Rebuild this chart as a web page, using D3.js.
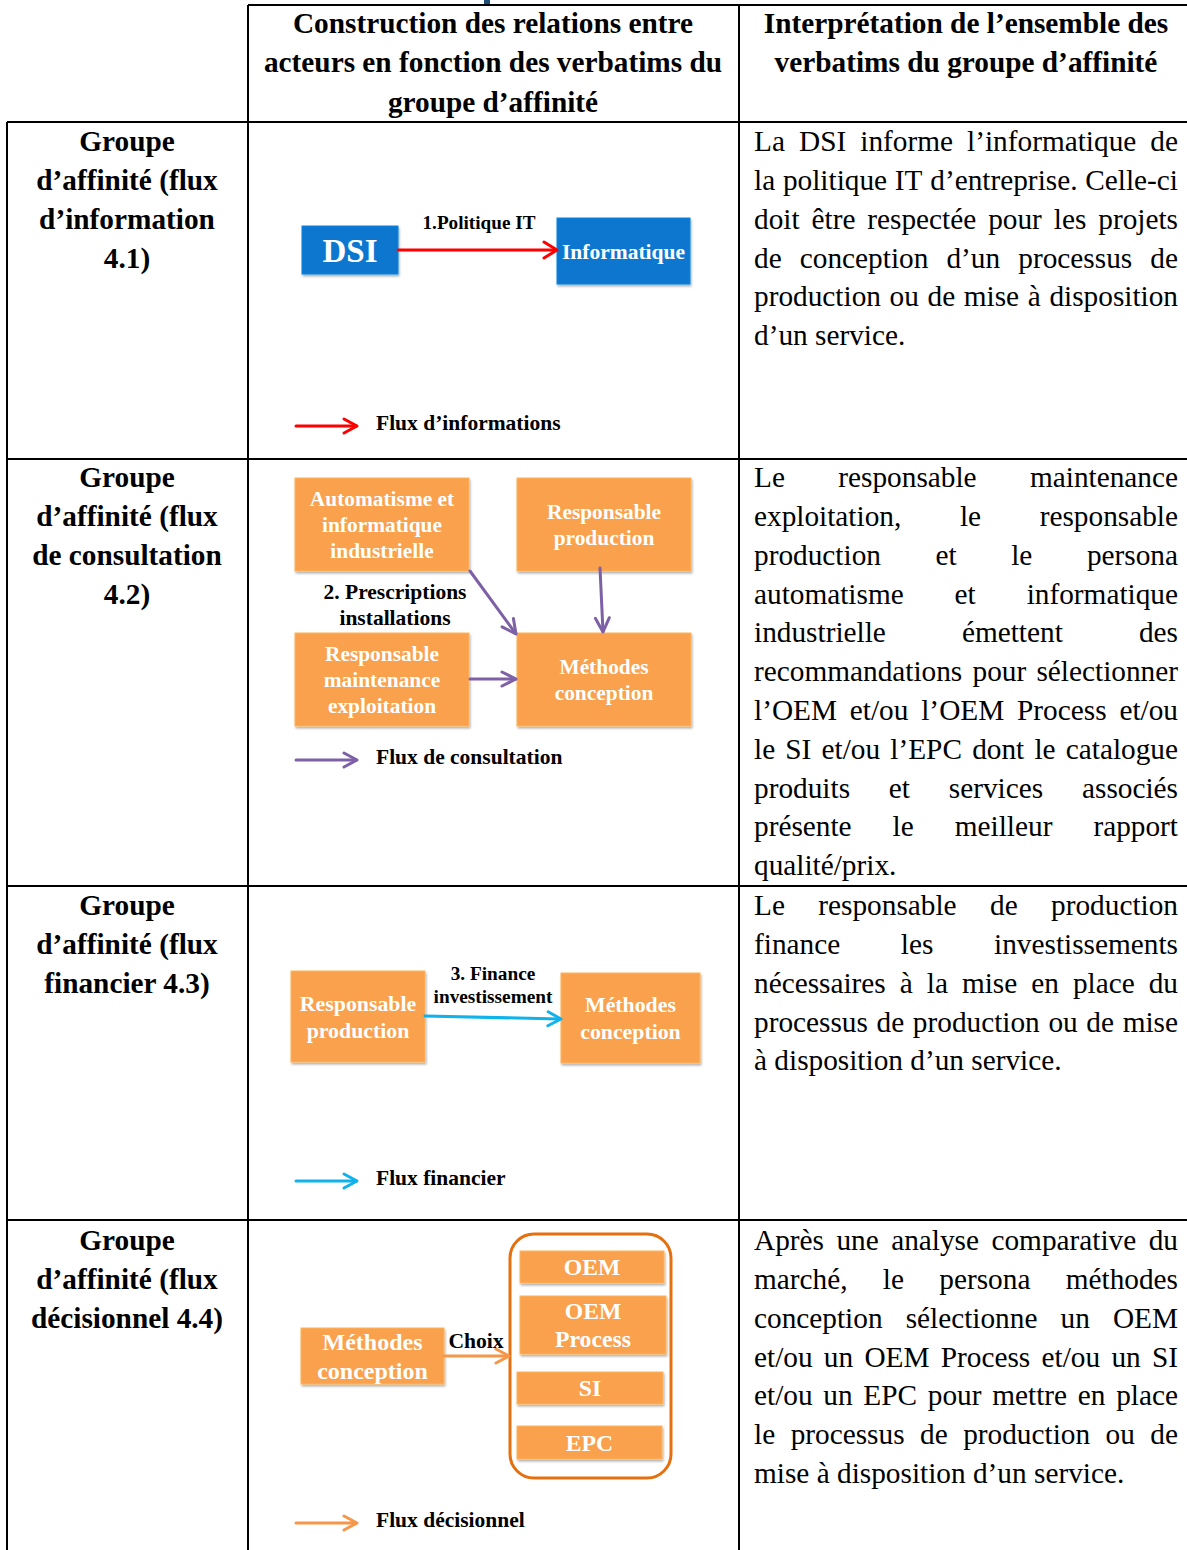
<!DOCTYPE html>
<html><head><meta charset="utf-8">
<script src="https://cdn.jsdelivr.net/npm/d3@7"></script>
<style>body{margin:0;background:#fff}svg{display:block}</style>
</head><body><svg id="c"></svg>
<script>
// ---------- DATA (text content) ----------
const headerCol2 = ["Construction des relations entre", "acteurs en fonction des verbatims du", "groupe d’affinité"];
const headerCol3 = ["Interprétation de l’ensemble des", "verbatims du groupe d’affinité"];
const groupLabels = [
  ["Groupe", "d’affinité (flux", "d’information", "4.1)"],
  ["Groupe", "d’affinité (flux", "de consultation", "4.2)"],
  ["Groupe", "d’affinité (flux", "financier 4.3)"],
  ["Groupe", "d’affinité (flux", "décisionnel 4.4)"]
];
const interpretations = [
  ["La DSI informe l’informatique de", "la politique IT d’entreprise. Celle-ci", "doit être respectée pour les projets",
   "de conception d’un processus de", "production ou de mise à disposition", "d’un service."],
  ["Le responsable maintenance", "exploitation, le responsable", "production et le persona", "automatisme et informatique",
   "industrielle émettent des", "recommandations pour sélectionner", "l’OEM et/ou l’OEM Process et/ou",
   "le SI et/ou l’EPC  dont le catalogue", "produits et services associés", "présente le meilleur rapport", "qualité/prix."],
  ["Le responsable de production", "finance les investissements", "nécessaires à la mise en place du",
   "processus de production ou de mise", "à disposition d’un service."],
  ["Après une analyse comparative du", "marché, le persona méthodes", "conception sélectionne un OEM",
   "et/ou un OEM Process et/ou un SI", "et/ou un EPC  pour mettre en place", "le processus de production ou de",
   "mise à disposition d’un service."]
];
const flowLegends = ["Flux d’informations", "Flux de consultation", "Flux financier", "Flux décisionnel"];
const actorsInfo = [["DSI"], ["Informatique"]];
const actorsConsult = [["Automatisme et", "informatique", "industrielle"], ["Responsable", "production"],
                       ["Responsable", "maintenance", "exploitation"], ["Méthodes", "conception"]];
const actorsFinance = [["Responsable", "production"], ["Méthodes", "conception"]];
const actorsDecision = [["Méthodes", "conception"], ["OEM"], ["OEM", "Process"], ["SI"], ["EPC"]];
const flowLabels = [["1.Politique IT"], ["2. Prescriptions", "installations"], ["3. Finance", "investissement"], ["Choix"]];

// ---------- STYLE / LAYOUT ----------
const W = 1187, H = 1550;
const serif = "'Liberation Serif','Times New Roman',serif";
const C = {blue: "#0b77cf", orange: "#f9a14e", red: "#ff0000", purple: "#7d60a6", cyan: "#10b2ec",
           orangeArrow: "#f69648", container: "#e4700f"};
const flowColors = [C.red, C.purple, C.cyan, C.orangeArrow];
const FS = 29.3;

const svg = d3.select("#c").attr("width", W).attr("height", H).style("font-family", serif);

const y = d3.scaleLinear().domain([0, H]).range([0, H]);

const colX = [7, 248, 739, 1187];
const rowY = [5, 122, 459, 886, 1220, 1550];

// small cut-off title fragment at top
svg.append("rect").attr("x", 484).attr("y", 0).attr("width", 6).attr("height", 4).attr("fill", "#1f4e79");

// ---------- TABLE GRID ----------
const grid = svg.append("g").attr("stroke", "#000").attr("stroke-width", 2);
grid.append("line").attr("x1", colX[1]).attr("x2", W).attr("y1", rowY[0]).attr("y2", rowY[0]);
[rowY[1], rowY[2], rowY[3], rowY[4]].forEach(v =>
  grid.append("line").attr("x1", colX[0]).attr("x2", W).attr("y1", y(v)).attr("y2", y(v)));
grid.append("line").attr("x1", colX[0]).attr("x2", colX[0]).attr("y1", rowY[1]).attr("y2", H);
grid.append("line").attr("x1", colX[1]).attr("x2", colX[1]).attr("y1", rowY[0]).attr("y2", H);
grid.append("line").attr("x1", colX[2]).attr("x2", colX[2]).attr("y1", rowY[0]).attr("y2", H);

// ---------- HEADERS ----------
function centeredLines(g, lines, cx, cy0, lh, fs, weight, fill) {
  g.selectAll(null).data(lines).enter().append("text")
    .attr("x", cx).attr("y", (d, i) => cy0 + i * lh).attr("dy", "0.35em")
    .attr("text-anchor", "middle").attr("font-size", fs).attr("font-weight", weight || "bold")
    .attr("fill", fill || "#000").text(d => d);
}
centeredLines(svg, headerCol2, 493, 23, 39.2, FS, "bold");
centeredLines(svg, headerCol3, 966, 23, 39.2, FS, "bold");

// group labels
const rowTextTop = [141, 477, 905, 1240];
groupLabels.forEach((lines, i) => centeredLines(svg, lines, 127, rowTextTop[i], 38.8, FS, "bold"));

// ---------- JUSTIFIED INTERPRETATIONS ----------
const jx0 = 754, jx1 = 1178;
const meas = svg.append("text").attr("font-size", FS).attr("x", -1000).attr("y", -1000);
function tw(s) { meas.text(s); return meas.node().getComputedTextLength(); }
const spaceW = tw("a a") - tw("aa");
interpretations.forEach((lines, r) => {
  const g = svg.append("g").attr("font-size", FS).attr("fill", "#000");
  lines.forEach((line, i) => {
    const words = line.split(/ +/);
    const widths = words.map(tw);
    const sum = d3.sum(widths);
    const last = i === lines.length - 1;
    const gap = (last || words.length < 2) ? spaceW : (jx1 - jx0 - sum) / (words.length - 1);
    let cx = jx0;
    words.forEach((w, k) => {
      g.append("text").attr("x", cx).attr("y", rowTextTop[r] + i * 38.8).attr("dy", "0.35em").text(w);
      cx += widths[k] + gap;
    });
  });
});
meas.remove();

// ---------- DIAGRAM HELPERS ----------
const defs = svg.append("defs");
const f = defs.append("filter").attr("id", "sh").attr("x", "-10%").attr("y", "-10%").attr("width", "130%").attr("height", "140%");
f.append("feDropShadow").attr("dx", 1).attr("dy", 2).attr("stdDeviation", 1.2).attr("flood-color", "#000").attr("flood-opacity", 0.3);

function box(lines, bx, by, bw, bh, fs, lh, fill) {
  const g = svg.append("g");
  g.append("rect").attr("x", bx).attr("y", by).attr("width", bw).attr("height", bh)
    .attr("fill", fill).attr("stroke", d3.color(fill).brighter(0.3)).attr("stroke-width", 1).attr("filter", "url(#sh)");
  const cy = by + bh / 2 - (lines.length - 1) * lh / 2;
  centeredLines(g, lines, bx + bw / 2, cy, lh, fs, "bold", "#fff");
}
function arrow(x1, y1, x2, y2, color, sw, hl, hw) {
  const g = svg.append("g").attr("stroke", color).attr("stroke-width", sw).attr("fill", "none")
    .attr("stroke-linecap", "round").attr("stroke-linejoin", "round");
  g.append("line").attr("x1", x1).attr("y1", y1).attr("x2", x2 - (x2 - x1) * 0.01).attr("y2", y2 - (y2 - y1) * 0.01);
  const a = Math.atan2(y2 - y1, x2 - x1);
  const p = (l, w) => [x2 - l * Math.cos(a) + w * Math.sin(a), y2 - l * Math.sin(a) - w * Math.cos(a)];
  g.append("path").attr("d", d3.line()([p(hl, hw), [x2, y2], p(hl, -hw)]));
}
function legend(yc, color, label) {
  arrow(296, yc + 4, 357, yc + 4, color, 3, 13, 7);
  svg.append("text").attr("x", 376).attr("y", yc).attr("dy", "0.35em").attr("font-size", 21.5)
    .attr("font-weight", "bold").text(label);
}

// ---------- ROW 1 ----------
box(actorsInfo[0], 302, 226, 96, 48, 33, 0, C.blue);
box(actorsInfo[1], 557, 218, 133, 66, 21.5, 0, C.blue);
arrow(398, 250, 557, 250, C.red, 3, 13, 8);
centeredLines(svg, flowLabels[0], 479, 222, 0, 19.2, "bold");
legend(422, flowColors[0], flowLegends[0]);

// ---------- ROW 2 ----------
box(actorsConsult[0], 295, 478, 174, 93, 21.4, 26, C.orange);
box(actorsConsult[1], 517, 478, 174, 93, 21.4, 26, C.orange);
box(actorsConsult[2], 295, 633, 174, 93, 21.4, 26, C.orange);
box(actorsConsult[3], 517, 633, 174, 93, 21.4, 26, C.orange);
arrow(470, 571, 516, 634, C.purple, 3, 14, 7);
arrow(600, 568, 603, 632, C.purple, 3, 14, 7);
arrow(470, 679, 516, 679, C.purple, 3, 14, 7);
centeredLines(svg, flowLabels[1], 395, 591, 26, 21.5, "bold");
legend(756, flowColors[1], flowLegends[1]);

// ---------- ROW 3 ----------
box(actorsFinance[0], 291, 971, 134, 91, 21.8, 27, C.orange);
box(actorsFinance[1], 561, 973, 139, 90, 21.8, 27, C.orange);
arrow(425, 1016, 561, 1019, C.cyan, 3, 13, 7);
centeredLines(svg, flowLabels[2], 493, 973, 23, 19.3, "bold");
legend(1177, flowColors[2], flowLegends[2]);

// ---------- ROW 4 ----------
svg.append("rect").attr("x", 510).attr("y", 1234).attr("width", 161).attr("height", 244).attr("rx", 24)
  .attr("fill", "none").attr("stroke", C.container).attr("stroke-width", 3);
box(actorsDecision[0], 301, 1328, 143, 56, 24, 29, C.orange);
box(actorsDecision[1], 520, 1251, 144, 32, 23.7, 0, C.orange);
box(actorsDecision[2], 520, 1296, 146, 58, 23.7, 28, C.orange);
box(actorsDecision[3], 517, 1372, 146, 32, 23.7, 0, C.orange);
box(actorsDecision[4], 517, 1426, 145, 33, 23.7, 0, C.orange);
arrow(444, 1356, 509, 1356, C.orangeArrow, 3, 13, 7);
centeredLines(svg, flowLabels[3], 476, 1340, 0, 21.6, "bold");
legend(1519, flowColors[3], flowLegends[3]);
</script></body></html>
